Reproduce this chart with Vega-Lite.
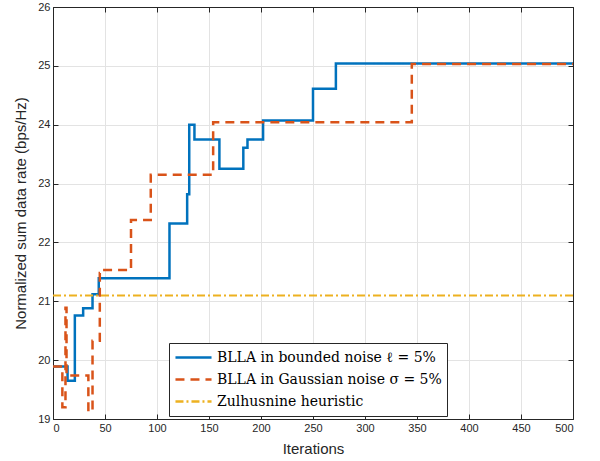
{
  "$schema": "https://vega.github.io/schema/vega-lite/v6.json",
  "width": 520,
  "height": 412,
  "autosize": {"type": "none"},
  "padding": {"left": 53, "top": 7, "right": 27, "bottom": 42},
  "background": "white",
  "config": {
    "view": {"stroke": "#262626", "strokeWidth": 1},
    "axis": {
      "labelFont": "Liberation Sans",
      "labelFontSize": 11,
      "labelColor": "#262626",
      "titleFont": "Liberation Sans",
      "titleFontSize": 15,
      "titleFontWeight": "normal",
      "titleColor": "#262626",
      "domainColor": "#262626",
      "tickColor": "#262626",
      "gridColor": "#e3e3e3",
      "gridWidth": 1
    }
  },
  "data": {
    "values": [
      {"it": 0, "rate": 19.89, "series": "BLLA in bounded noise ℓ = 5%"},
      {"it": 14, "rate": 19.65, "series": "BLLA in bounded noise ℓ = 5%"},
      {"it": 21, "rate": 20.76, "series": "BLLA in bounded noise ℓ = 5%"},
      {"it": 29, "rate": 20.88, "series": "BLLA in bounded noise ℓ = 5%"},
      {"it": 38, "rate": 21.12, "series": "BLLA in bounded noise ℓ = 5%"},
      {"it": 44, "rate": 21.39, "series": "BLLA in bounded noise ℓ = 5%"},
      {"it": 112, "rate": 22.32, "series": "BLLA in bounded noise ℓ = 5%"},
      {"it": 129, "rate": 22.82, "series": "BLLA in bounded noise ℓ = 5%"},
      {"it": 131, "rate": 24.0, "series": "BLLA in bounded noise ℓ = 5%"},
      {"it": 136, "rate": 23.75, "series": "BLLA in bounded noise ℓ = 5%"},
      {"it": 160, "rate": 23.25, "series": "BLLA in bounded noise ℓ = 5%"},
      {"it": 183, "rate": 23.61, "series": "BLLA in bounded noise ℓ = 5%"},
      {"it": 187, "rate": 23.75, "series": "BLLA in bounded noise ℓ = 5%"},
      {"it": 202, "rate": 24.07, "series": "BLLA in bounded noise ℓ = 5%"},
      {"it": 250, "rate": 24.61, "series": "BLLA in bounded noise ℓ = 5%"},
      {"it": 272, "rate": 25.04, "series": "BLLA in bounded noise ℓ = 5%"},
      {"it": 500, "rate": 25.04, "series": "BLLA in bounded noise ℓ = 5%"},
      {"it": 0, "rate": 19.89, "series": "BLLA in Gaussian noise σ = 5%"},
      {"it": 9, "rate": 19.2, "series": "BLLA in Gaussian noise σ = 5%"},
      {"it": 12, "rate": 20.89, "series": "BLLA in Gaussian noise σ = 5%"},
      {"it": 13, "rate": 19.74, "series": "BLLA in Gaussian noise σ = 5%"},
      {"it": 34, "rate": 19.13, "series": "BLLA in Gaussian noise σ = 5%"},
      {"it": 38, "rate": 20.33, "series": "BLLA in Gaussian noise σ = 5%"},
      {"it": 45, "rate": 21.48, "series": "BLLA in Gaussian noise σ = 5%"},
      {"it": 48, "rate": 21.53, "series": "BLLA in Gaussian noise σ = 5%"},
      {"it": 75, "rate": 22.38, "series": "BLLA in Gaussian noise σ = 5%"},
      {"it": 94, "rate": 23.15, "series": "BLLA in Gaussian noise σ = 5%"},
      {"it": 154, "rate": 24.04, "series": "BLLA in Gaussian noise σ = 5%"},
      {"it": 345, "rate": 25.03, "series": "BLLA in Gaussian noise σ = 5%"},
      {"it": 500, "rate": 25.03, "series": "BLLA in Gaussian noise σ = 5%"},
      {"it": 0, "rate": 21.1, "series": "Zulhusnine heuristic"},
      {"it": 500, "rate": 21.1, "series": "Zulhusnine heuristic"}
    ]
  },
  "layer": [
    {
      "transform": [{"filter": "datum.series !== 'Zulhusnine heuristic'"}],
      "mark": {"type": "line", "interpolate": "step-after", "strokeWidth": 2.5, "clip": true},
      "encoding": {
        "x": {"field": "it", "type": "quantitative", "scale": {"domain": [0, 500], "nice": false},
              "axis": {"values": [0, 50, 100, 150, 200, 250, 300, 350, 400, 450, 500], "title": "Iterations", "grid": true, "tickSize": -5, "labelPadding": 8, "titlePadding": 8}},
        "y": {"field": "rate", "type": "quantitative", "scale": {"domain": [19, 26], "nice": false, "zero": false},
              "axis": {"values": [19, 20, 21, 22, 23, 24, 25, 26], "title": "Normalized sum data rate (bps/Hz)", "grid": true, "tickSize": -5, "labelPadding": 8, "titlePadding": 9}},
        "color": {"field": "series", "type": "nominal",
                  "scale": {"domain": ["BLLA in bounded noise ℓ = 5%", "BLLA in Gaussian noise σ = 5%", "Zulhusnine heuristic"], "range": ["#0072BD", "#D95319", "#EDB120"]},
                  "legend": {"title": null, "orient": "none", "legendX": 116, "legendY": 336, "symbolType": "stroke", "symbolSize": 1300, "symbolStrokeWidth": 2.5, "clipHeight": 19, "labelFont": "DejaVu Serif", "labelFontSize": 14, "labelColor": "#000000", "labelOffset": 4, "strokeColor": "#262626", "fillColor": "white", "padding": 5, "rowPadding": 3, "labelLimit": 400}},
        "strokeDash": {"field": "series", "type": "nominal",
                       "scale": {"domain": ["BLLA in bounded noise ℓ = 5%", "BLLA in Gaussian noise σ = 5%", "Zulhusnine heuristic"], "range": [[1, 0], [9, 6], [8, 3, 2, 3]]},
                       "legend": null}
      }
    },
    {
      "transform": [{"filter": "datum.series === 'Zulhusnine heuristic'"}],
      "mark": {"type": "line", "strokeWidth": 2},
      "encoding": {
        "x": {"field": "it", "type": "quantitative", "scale": {"domain": [0, 500], "nice": false},
              "axis": {"orient": "top", "values": [0, 50, 100, 150, 200, 250, 300, 350, 400, 450, 500], "labels": false, "title": null, "grid": false, "tickSize": -5}},
        "y": {"field": "rate", "type": "quantitative", "scale": {"domain": [19, 26], "nice": false, "zero": false},
              "axis": {"orient": "right", "values": [19, 20, 21, 22, 23, 24, 25, 26], "labels": false, "title": null, "grid": false, "tickSize": -5}},
        "color": {"field": "series", "type": "nominal"},
        "strokeDash": {"field": "series", "type": "nominal"}
      }
    }
  ],
  "resolve": {"axis": {"x": "independent", "y": "independent"}}
}
